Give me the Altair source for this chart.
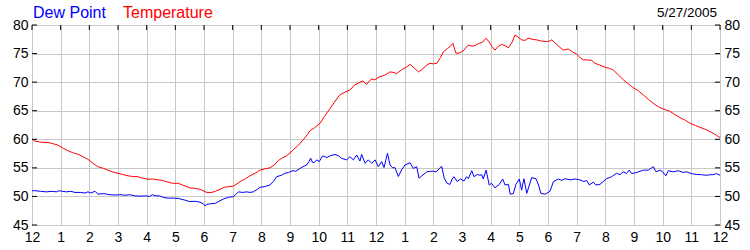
import altair as alt
import pandas as pd

# ---------------- data ----------------
temp_hours = [0.0, 0.1, 0.3, 0.6, 0.9, 1.1, 1.25, 1.45, 1.6, 1.8, 1.95, 2.1, 2.3, 2.5, 2.65, 2.8,
              3.0, 3.2, 3.35, 3.5, 3.7, 3.85, 4.05, 4.2, 4.4, 4.55, 4.75, 4.9, 5.1, 5.25, 5.5, 5.7,
              5.86, 6.0, 6.1, 6.27, 6.4, 6.56, 6.7, 6.85, 7.02, 7.15, 7.26, 7.45, 7.6, 7.8, 7.95,
              8.1, 8.3, 8.45, 8.6, 8.75, 8.88, 9.0, 9.1, 9.3, 9.46, 9.6, 9.7, 9.85, 10.05, 10.2,
              10.4, 10.55, 10.74, 10.9, 11.09, 11.25, 11.44, 11.55, 11.67, 11.78, 11.85, 11.95,
              12.13, 12.3, 12.49, 12.6, 12.72, 12.9, 13.05, 13.19, 13.35, 13.48, 13.6, 13.75,
              13.88, 14.0, 14.12, 14.25, 14.35, 14.5, 14.6, 14.68, 14.79, 14.9, 15.04, 15.22,
              15.35, 15.45, 15.6, 15.72, 15.84, 15.95, 16.05, 16.15, 16.25, 16.38, 16.5, 16.62,
              16.75, 16.85, 16.95, 17.08, 17.2, 17.31, 17.45, 17.6, 17.75, 17.95, 18.05, 18.13,
              18.3, 18.53, 18.62, 18.71, 18.85, 19.0, 19.1, 19.23, 19.35, 19.52, 19.64, 19.8,
              19.99, 20.15, 20.28, 20.45, 20.63, 20.8, 20.98, 21.15, 21.33, 21.5, 21.67, 21.85,
              22.02, 22.25, 22.4, 22.6, 22.8, 22.95, 23.15, 23.3, 23.5, 23.71, 23.85, 24.0]
temp_values = [60.0, 59.7, 59.5, 59.4, 59.0, 58.4, 58.0, 57.6, 57.4, 56.9, 56.5, 55.9, 55.2, 54.9,
               54.6, 54.3, 54.05, 53.8, 53.6, 53.5, 53.45, 53.2, 53.0, 53.05, 52.9, 52.8, 52.5,
               52.3, 52.3, 52.0, 51.5, 51.4, 51.25, 50.9, 50.7, 50.7, 50.9, 51.25, 51.6, 51.7,
               51.8, 52.2, 52.6, 53.1, 53.6, 54.1, 54.6, 54.8, 55.0, 55.5, 56.3, 56.8, 57.1,
               57.6, 58.1, 59.0, 59.9, 60.8, 61.5, 62.0, 62.8, 64.0, 65.4, 66.5, 67.8, 68.2,
               68.6, 69.5, 70.0, 70.2, 69.6, 70.3, 70.55, 70.4, 70.95, 71.2, 71.8, 71.7, 71.5,
               72.2, 72.6, 73.1, 72.4, 71.8, 72.2, 72.9, 73.3, 73.2, 73.3, 74.3, 75.3, 75.9,
               76.3, 76.8, 75.05, 75.1, 75.45, 76.5, 76.3, 76.4, 76.8, 77.0, 77.7, 77.0, 76.2,
               75.6, 76.2, 76.6, 76.4, 76.0, 77.0, 78.25, 77.9, 77.4, 77.3, 77.7, 77.5, 77.4,
               77.2, 77.1, 77.2, 77.4, 76.6, 75.6, 75.7, 75.8, 75.3, 74.9, 74.4, 73.9, 73.9,
               73.8, 73.3, 73.0, 72.6, 72.4, 72.1, 71.3, 70.4, 69.7, 69.0, 68.5, 67.75, 67.0,
               66.3, 65.7, 65.3, 64.9, 64.4, 63.8, 63.3, 62.8, 62.4, 62.1, 61.7, 61.2, 60.8, 60.3]

dew_hours = [0.0, 0.1, 0.3, 0.5, 0.7, 0.85, 0.95, 1.05, 1.2, 1.35, 1.5, 1.7, 1.85, 1.95, 2.05, 2.2,
             2.3, 2.5, 2.7, 2.9, 3.1, 3.25, 3.4, 3.6, 3.8, 3.95, 4.1, 4.2, 4.3, 4.45, 4.6, 4.75,
             4.95, 5.1, 5.3, 5.5, 5.7, 5.86, 5.98, 6.03, 6.1, 6.2, 6.4, 6.56, 6.7, 6.85, 7.02,
             7.1, 7.2, 7.35, 7.49, 7.6, 7.72, 7.85, 7.95, 8.1, 8.3, 8.45, 8.53, 8.7, 8.82, 8.95,
             9.1, 9.2, 9.35, 9.45, 9.58, 9.65, 9.72, 9.78, 9.84, 9.93, 10.02, 10.14, 10.28, 10.4,
             10.57, 10.7, 10.8, 10.98, 11.09, 11.21, 11.33, 11.44, 11.5, 11.62, 11.73, 11.85,
             11.97, 12.08, 12.2, 12.28, 12.4, 12.49, 12.58, 12.66, 12.78, 12.9, 13.01, 13.19,
             13.3, 13.42, 13.5, 13.6, 13.77, 13.9, 14.0, 14.1, 14.29, 14.38, 14.48, 14.58,
             14.65, 14.72, 14.83, 14.95, 15.07, 15.16, 15.22, 15.34, 15.42, 15.53, 15.62, 15.69,
             15.74, 15.84, 15.95, 16.03, 16.15, 16.3, 16.42, 16.5, 16.62, 16.68, 16.79, 16.88,
             17.0, 17.08, 17.16, 17.26, 17.35, 17.43, 17.58, 17.67, 17.75, 17.9, 18.07, 18.19,
             18.36, 18.48, 18.59, 18.77, 18.94, 19.11, 19.25, 19.35, 19.44, 19.58, 19.67, 19.81,
             19.95, 20.04, 20.22, 20.39, 20.51, 20.63, 20.74, 20.83, 20.92, 21.1, 21.33, 21.5,
             21.67, 21.77, 21.91, 22.0, 22.11, 22.2, 22.37, 22.55, 22.71, 22.83, 23.0, 23.18,
             23.35, 23.53, 23.65, 23.76, 23.88, 24.0]
dew_values = [51.0, 51.0, 50.9, 50.8, 50.9, 50.8, 51.0, 50.9, 50.8, 50.9, 50.7, 50.7, 50.6, 50.8,
              50.6, 50.9, 50.4, 50.5, 50.3, 50.25, 50.3, 50.2, 50.3, 50.1, 50.05, 50.1, 50.0,
              50.3, 50.1, 50.1, 49.8, 49.7, 49.7, 49.65, 49.4, 49.1, 49.15, 49.0, 48.7, 48.35,
              48.6, 48.7, 48.8, 49.25, 49.6, 49.85, 49.95, 50.3, 50.8, 50.7, 50.8, 50.7, 50.8,
              51.2, 51.6, 51.7, 52.0, 52.8, 53.45, 53.7, 54.05, 54.2, 54.5, 54.4, 54.9, 55.2,
              55.5, 56.0, 56.7, 56.0, 55.9, 56.4, 56.1, 57.1, 56.8, 57.1, 57.35, 57.1, 56.65,
              56.4, 56.95, 56.4, 57.25, 56.2, 57.35, 55.8, 56.4, 55.8, 56.4, 55.2, 56.1, 55.05,
              57.55, 55.5, 55.0, 55.05, 53.5, 54.7, 55.5, 55.9, 54.9, 55.2, 53.2, 53.6, 54.3,
              54.4, 54.4, 54.3, 55.3, 53.2, 52.3, 52.1, 53.0, 53.45, 52.6, 53.05, 52.7, 53.45,
              53.1, 54.5, 53.45, 53.85, 53.7, 53.8, 53.05, 54.6, 52.0, 52.3, 51.5, 52.1, 53.05,
              52.0, 52.1, 50.4, 50.5, 52.1, 53.05, 51.1, 53.1, 50.55, 52.0, 53.3, 53.1, 52.0,
              50.55, 50.4, 50.9, 52.6, 53.05, 52.8, 53.1, 52.9, 53.05, 52.9, 52.6, 52.8, 52.0,
              52.5, 52.0, 52.1, 52.7, 53.1, 53.45, 54.05, 53.8, 54.3, 54.0, 54.6, 54.0, 54.2,
              54.6, 54.6, 55.2, 54.3, 54.6, 54.3, 53.6, 54.5, 54.3, 54.5, 54.2, 54.3, 54.0,
              53.85, 53.8, 53.7, 53.8, 53.8, 54.0, 53.7]

y_ticks = [45, 50, 55, 60, 65, 70, 75, 80]
x_ticks = list(range(25))
x_labels = ['12', '1', '2', '3', '4', '5', '6', '7', '8', '9', '10', '11',
            '12', '1', '2', '3', '4', '5', '6', '7', '8', '9', '10', '11', '12']
series_names = ['Dew Point', 'Temperature']
series_colors = ['#0000ff', '#ff0000']
date_text = ['5/27/2005']

FONT = 'Liberation Sans'
W, H = 688, 200

# ---------------- tables ----------------
dew_df = pd.DataFrame({'hour': dew_hours, 'value': dew_values, 'series': series_names[0]})
temp_df = pd.DataFrame({'hour': temp_hours, 'value': temp_values, 'series': series_names[1]})
lines_df = pd.concat([dew_df, temp_df], ignore_index=True)
xt_df = pd.DataFrame({'hour': x_ticks})
yt_df = pd.DataFrame({'value': y_ticks})

xscale = alt.Scale(domain=[0, 24], nice=False, zero=False)
yscale = alt.Scale(domain=[45, 80], nice=False, zero=False)

label_arr = '[' + ','.join("'%s'" % s for s in x_labels) + ']'

lines = alt.Chart(lines_df).mark_line(strokeWidth=1, interpolate='linear').encode(
    x=alt.X('hour:Q', scale=xscale, title=None,
            axis=alt.Axis(values=x_ticks, labelExpr=label_arr + '[datum.value]',
                          grid=True, gridColor='#c8c8c8', gridWidth=1, ticks=False,
                          domain=False, labelFont=FONT, labelFontSize=14, labelColor='#000000',
                          labelPadding=5, labelFlush=False, labelOverlap=False)),
    y=alt.Y('value:Q', scale=yscale, title=None,
            axis=alt.Axis(values=y_ticks, grid=True, gridColor='#c8c8c8', gridWidth=1,
                          ticks=False, domain=False, labelFont=FONT, labelFontSize=14,
                          labelColor='#000000', labelPadding=4, labelFlush=False)),
    color=alt.Color('series:N', scale=alt.Scale(domain=series_names, range=series_colors),
                    legend=None),
    detail='series:N',
)

right_axis = alt.Chart(yt_df).mark_rule(stroke='#000000', strokeWidth=1).encode(
    y=alt.Y('value:Q', scale=yscale, title=None,
            axis=alt.Axis(orient='right', values=y_ticks, grid=False, ticks=False, domain=False,
                          labelFont=FONT, labelFontSize=14, labelColor='#000000',
                          labelPadding=4, labelFlush=False)),
    x=alt.value(W - 5), x2=alt.value(W),
)

left_ticks = alt.Chart(yt_df).mark_rule(stroke='#000000', strokeWidth=1).encode(
    y=alt.Y('value:Q', scale=yscale, axis=None),
    x=alt.value(0), x2=alt.value(5),
)

top_ticks = alt.Chart(xt_df).mark_rule(stroke='#000000', strokeWidth=1).encode(
    x=alt.X('hour:Q', scale=xscale, axis=None),
    y=alt.value(0), y2=alt.value(5),
)

title_df = pd.DataFrame({'label': series_names, 'color': series_colors, 'px': [1, 91]})
titles = alt.Chart(title_df).mark_text(font=FONT, fontSize=16, align='left',
                                       baseline='middle').encode(
    x=alt.X('px:Q', scale=None),
    y=alt.value(-12),
    text='label:N',
    color=alt.Color('color:N', scale=None),
)

date_mark = alt.Chart(pd.DataFrame({'label': date_text})).mark_text(
    font=FONT, fontSize=13.5, align='right', baseline='middle', color='#000000').encode(
    x=alt.value(W - 3), y=alt.value(-12), text='label:N')

chart = alt.layer(lines, right_axis, left_ticks, top_ticks, titles, date_mark).resolve_axis(
    y='independent', x='independent'
).properties(
    width=W, height=H, autosize=alt.AutoSizeParams(type='none'),
    padding={'left': 32, 'top': 25, 'right': 30, 'bottom': 25},
    background='#ffffff',
).configure_view(stroke='#000000', strokeWidth=1)

chart.save('out.html', embed_options={'renderer': 'svg', 'actions': False})
